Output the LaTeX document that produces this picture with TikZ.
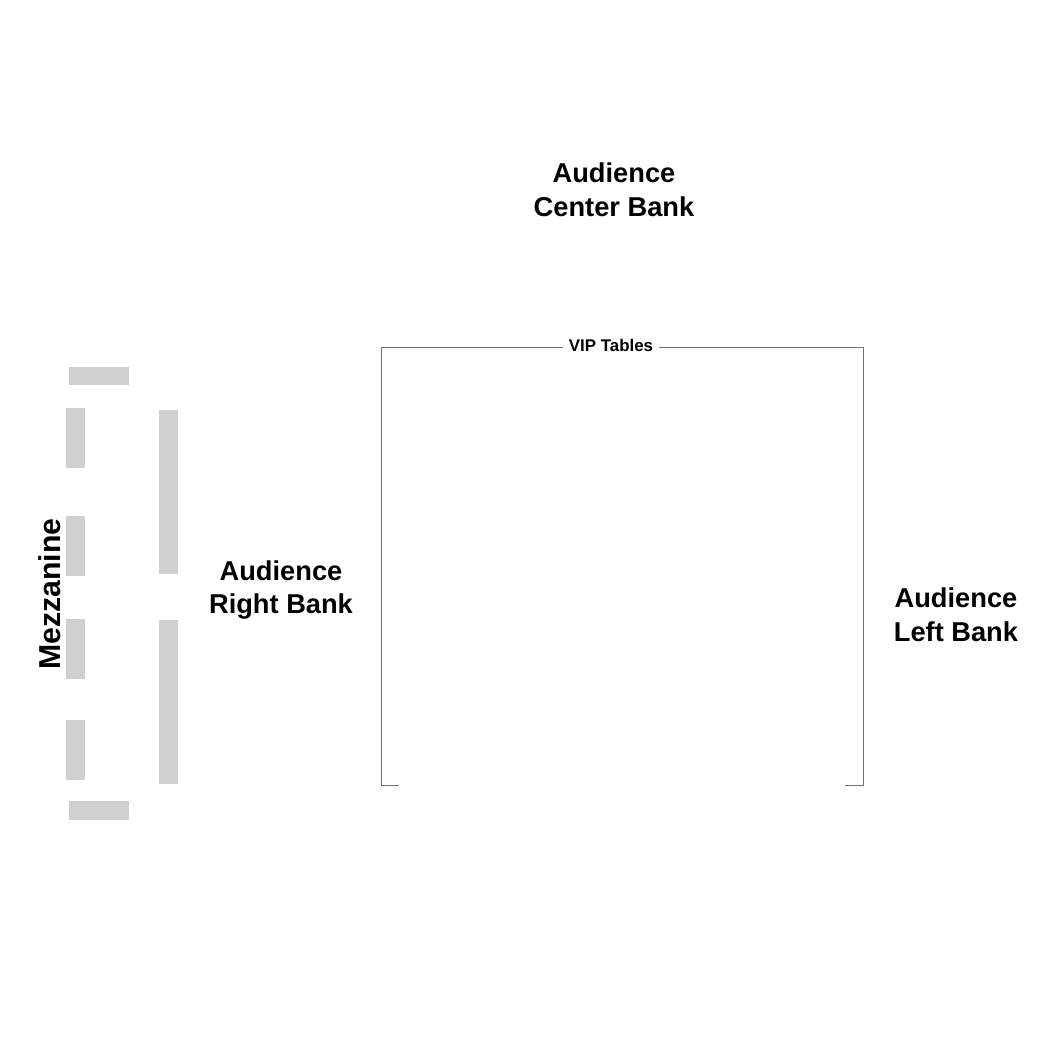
\documentclass[tikz,border=0pt]{standalone}
\usepackage{fontspec}
\setmainfont{Liberation Sans}
\begin{document}
\begin{tikzpicture}[x=0.01cm,y=-0.01cm,
  bank/.style={font=\fontsize{7.75}{9.6}\selectfont\bfseries, align=center, inner sep=0pt},
  seat/.style={fill=black!19, draw=none},
  rail/.style={draw=black!55, line width=0.2pt}]
  \useasboundingbox (0,0) rectangle (1050,1050);
  % mezzanine rails
  \fill[seat] (69,367) rectangle (129,385);
  \fill[seat] (69,801) rectangle (129,820);
  \foreach \y in {408,516,619,720}
    \fill[seat] (66,\y) rectangle (85,\y+60);
  \fill[seat] (159,410) rectangle (178,574);
  \fill[seat] (159,620) rectangle (178,784);
  \node[bank, rotate=90, font=\fontsize{8.6}{10}\selectfont\bfseries] (mezz) at (50,594) {Mezzanine};
  % banks
  \node[bank] (center) at (614,190) {Audience\\Center Bank};
  \node[bank] (right) at (281,590) {Audience\\Right Bank};
  \node[bank] (left) at (956,615) {Audience\\Left Bank};
  % VIP tables
  \node[font=\fontsize{4.8}{6}\selectfont\bfseries, fill=white, inner sep=1.5pt] (vip) at (611,345) {VIP Tables};
  \coordinate (tl) at (381,347);
  \coordinate (tr) at (863,347);
  \coordinate (bl) at (381,785);
  \coordinate (br) at (863,785);
  \draw[rail] (vip.west |- tl) -- (tl) -- (bl) -- ++(18,0);
  \draw[rail] (vip.east |- tr) -- (tr) -- (br) -- ++(-18,0);
\end{tikzpicture}
\end{document}
